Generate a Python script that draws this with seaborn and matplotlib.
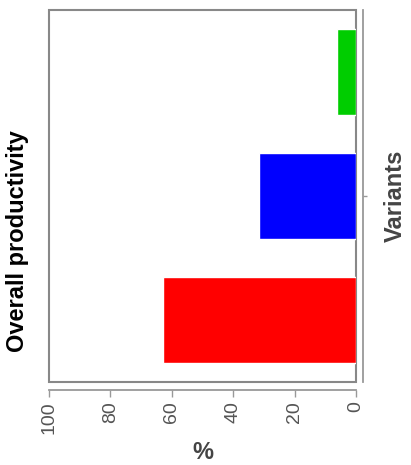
import matplotlib
matplotlib.use("Agg")
import matplotlib.pyplot as plt
import seaborn as sns
import pandas as pd

# values (top to bottom)
variants = ["Variant C", "Variant B", "Variant A"]
productivity = [6.3, 31.6, 62.8]
bar_colors = ["#00CD00", "#0000FF", "#FF0000"]
x_ticks = [0, 20, 40, 60, 80, 100]

sns.set_theme(style="white")
plt.rcParams["font.family"] = ["Liberation Sans", "DejaVu Sans"]

df = pd.DataFrame({"variant": variants, "pct": productivity})

fig = plt.figure(figsize=(4.11, 4.65), dpi=100)
ax = fig.add_axes([49 / 411, 83 / 465, 307 / 411, 372 / 465])

sns.barplot(data=df, x="pct", y="variant", hue="variant", palette=bar_colors,
            order=variants, hue_order=variants, orient="h", width=0.7,
            saturation=1, legend=False, ax=ax)

ax.set_xlim(100, 0)
ax.set_ylim(2.5, -0.5)

# panel box
ax.patch.set_edgecolor("#888888")
ax.patch.set_linewidth(1.5)

# offset axes in R style
for side in ["top", "left"]:
    ax.spines[side].set_visible(False)
ax.spines["bottom"].set_position(("outward", 6))
ax.spines["bottom"].set_bounds(0, 100)
ax.spines["right"].set_position(("outward", 5))
for side in ["bottom", "right"]:
    ax.spines[side].set_color("#999999")
    ax.spines[side].set_linewidth(1.3)

ax.set_xticks(x_ticks)
ax.set_xticklabels([str(t) for t in x_ticks], rotation=90)
ax.tick_params(axis="x", bottom=True, direction="out", length=5, width=1,
               color="#999999", labelcolor="#555555", labelsize=14, pad=3)

ax.yaxis.tick_right()
ax.yaxis.set_label_position("right")
ax.set_yticks([1])
ax.set_yticklabels([""])
ax.tick_params(axis="y", right=True, left=False, direction="out", length=3,
               width=1, color="#999999")

ax.set_xlabel("%", fontsize=17, fontweight="bold", color="#444444")
ax.xaxis.set_label_coords(0.5, -0.158)
ax.set_ylabel("Variants", fontsize=17, fontweight="bold", color="#444444")
ax.yaxis.set_label_coords(1.09, 0.5)

fig.text(18 / 411, 1 - 241 / 465, "Overall productivity", rotation=90,
         ha="center", va="center", fontsize=17, fontweight="bold", color="black")

fig.savefig("out.png", dpi=100)
